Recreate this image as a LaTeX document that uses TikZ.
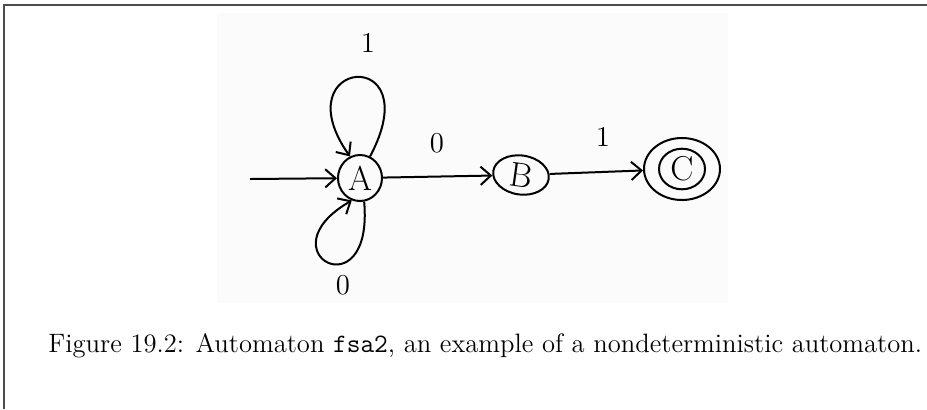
\documentclass[tikz,border=0pt]{standalone}
\usepackage{tikz}
\usetikzlibrary{arrows.meta,shapes.geometric}

\begin{document}
\begin{tikzpicture}[x=0.5pt,y=-0.5pt,>={Straight Barb[length=1.8mm,width=3.2mm]},
  state/.style={ellipse,draw,line width=1pt,inner sep=1pt,font=\LARGE},
  hand/.style={line width=1pt},
  lbl/.style={font=\Large}]
  \useasboundingbox (0,0) rectangle (927,409);
  % page frame and scanned sketch area
  \draw[black!70,line width=1pt] (4,409) -- (4,5) -- (927,5);
  \fill[black!1.5] (217,13) rectangle (728,303);
  % states
  \node[state,minimum width=22pt,minimum height=23pt] (A) at (360,178) {A};
  \node[state,minimum width=28pt,minimum height=17pt,rotate=-8] (B) at (521,175) {B};
  \node[state,minimum width=23pt,minimum height=19pt] (C) at (682,169) {C};
  \node[state,minimum width=38pt,minimum height=31pt] (Cout) at (C) {};
  \coordinate (start) at (250,179);
  % transitions
  \draw[hand,->] (start) -- (A);
  \draw[hand,->] (A) -- (B);
  \draw[hand,->] (B) -- (Cout);
  \draw[hand,->] (A.65) .. controls +(62:64pt) and +(125:60pt) .. (A.115);
  \draw[hand,->] (A.-80) .. controls +(-85:56pt) and +(-150:52pt) .. (A.-110);
  \node[lbl] (oneAA) at (368,43) {1};
  \node[lbl] (zeroAA) at (343,285) {0};
  \node[lbl] (zeroAB) at (437,143) {0};
  \node[lbl] (oneBC) at (603,137) {1};
  % caption
  \node[anchor=base west,inner sep=0pt,font=\fontsize{13.3}{16}\selectfont] (cap) at (48,352)
    {Figure 19.2: Automaton \texttt{fsa2}, an example of a nondeterministic automaton.};
\end{tikzpicture}
\end{document}
